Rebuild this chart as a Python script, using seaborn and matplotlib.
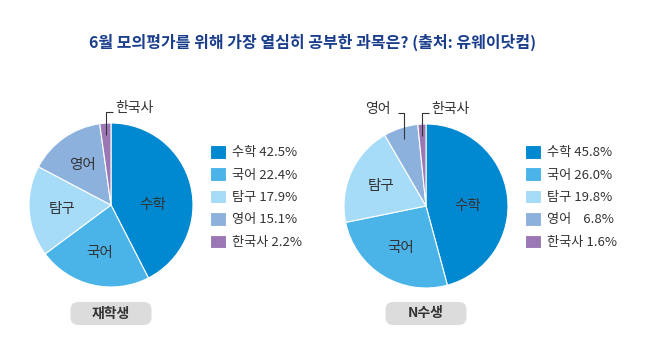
import numpy as np
import matplotlib
matplotlib.use("Agg")
import matplotlib.pyplot as plt
from matplotlib.patches import FancyBboxPatch
import seaborn as sns

sns.set_theme(style="white")
plt.rcParams['font.family'] = ['Noto Sans CJK KR', 'DejaVu Sans']

title = "6월 모의평가를 위해 가장 열심히 공부한 과목은? (출처: 유웨이닷컴)"
subjects = ["수학", "국어", "탐구", "영어", "한국사"]
group_names = ["재학생", "N수생"]
values_current = [42.5, 22.4, 17.9, 15.1, 2.2]
values_nsu = [45.8, 26.0, 19.8, 6.8, 1.6]
legend_current = ["수학 42.5%", "국어 22.4%", "탐구 17.9%", "영어 15.1%", "한국사 2.2%"]
legend_nsu = ["수학 45.8%", "국어 26.0%", "탐구 19.8%", "영어    6.8%", "한국사 1.6%"]
colors = ["#0088D1", "#4AB4E8", "#A7DCF8", "#8DB1DD", "#9B77B5"]

W, H = 650, 354
fig = plt.figure(figsize=(W / 100, H / 100), dpi=100)
fig.patch.set_facecolor("white")

fig.text(313 / W, 1 - 42 / H, title, ha="center", va="center",
         fontsize=11.5, fontweight="bold", color="#1B3E8C")

R = 82
centers = [(111, 205), (426, 206)]
legend_x = [210, 525]
datasets = [values_current, values_nsu]
legends = [legend_current, legend_nsu]
# which small slices get an outside leader label: (index, side)
outside = [[(4, "right")], [(3, "left"), (4, "right")]]

for k in range(2):
    cx, cy = centers[k]
    ax = fig.add_axes([(cx - R) / W, 1 - (cy + R) / H, 2 * R / W, 2 * R / H])
    vals = datasets[k]
    inside_labels = [s if i not in [o[0] for o in outside[k]] else "" for i, s in enumerate(subjects)]
    wedges, texts = ax.pie(vals, colors=colors, startangle=90, counterclock=False,
                           labels=inside_labels, labeldistance=0.6,
                           wedgeprops=dict(edgecolor="white", linewidth=0.8),
                           textprops=dict(fontsize=10.5, color="#333333", ha="center", va="center"))
    for t in texts:
        t.set_ha("center")
        t.set_va("center")
    # the largest slice's label sits on the horizontal
    texts[0].set_position((0.51, 0.0))
    ax.set_xlim(-1, 1)
    ax.set_ylim(-1, 1)
    ax.set_aspect("equal")
    ax.axis("off")

    for idx, side in outside[k]:
        w = wedges[idx]
        mid = np.deg2rad((w.theta1 + w.theta2) / 2)
        x0 = 0.86 * np.cos(mid)
        y0 = 0.86 * np.sin(mid)
        ytop = 1.14
        dx = 0.08 if side == "right" else -0.08
        ax.plot([x0, x0, x0 + dx], [y0, ytop, ytop], color="#333333", lw=0.8,
                clip_on=False, solid_capstyle="butt")
        ax.text(x0 + dx + (0.03 if side == "right" else -0.08), ytop + 0.04, subjects[idx],
                ha="left" if side == "right" else "right", va="center",
                fontsize=10, color="#333333", clip_on=False)

    fig.legend(wedges, legends[k], loc="upper left",
               bbox_to_anchor=(legend_x[k] / W, 1 - 145 / H),
               bbox_transform=fig.transFigure, frameon=False,
               fontsize=9.5, handlelength=1.2, handleheight=1.2,
               handletextpad=0.45, labelspacing=0.62, borderpad=0,
               borderaxespad=0, labelcolor="#333333")

    # group label box
    bw, bh = 81, 23
    bx, by = cx - bw / 2, 313.5 - bh / 2
    box = FancyBboxPatch((bx / W, 1 - (by + bh) / H), bw / W, bh / H,
                         boxstyle="round,pad=0,rounding_size=0.012",
                         transform=fig.transFigure, facecolor="#DCDCDC",
                         edgecolor="none", mutation_aspect=W / H)
    fig.patches.append(box)
    fig.text(cx / W, 1 - 313.5 / H, group_names[k], ha="center", va="center",
             fontsize=10, fontweight="bold", color="#333333")

fig.savefig("out.png", dpi=100, facecolor="white")
